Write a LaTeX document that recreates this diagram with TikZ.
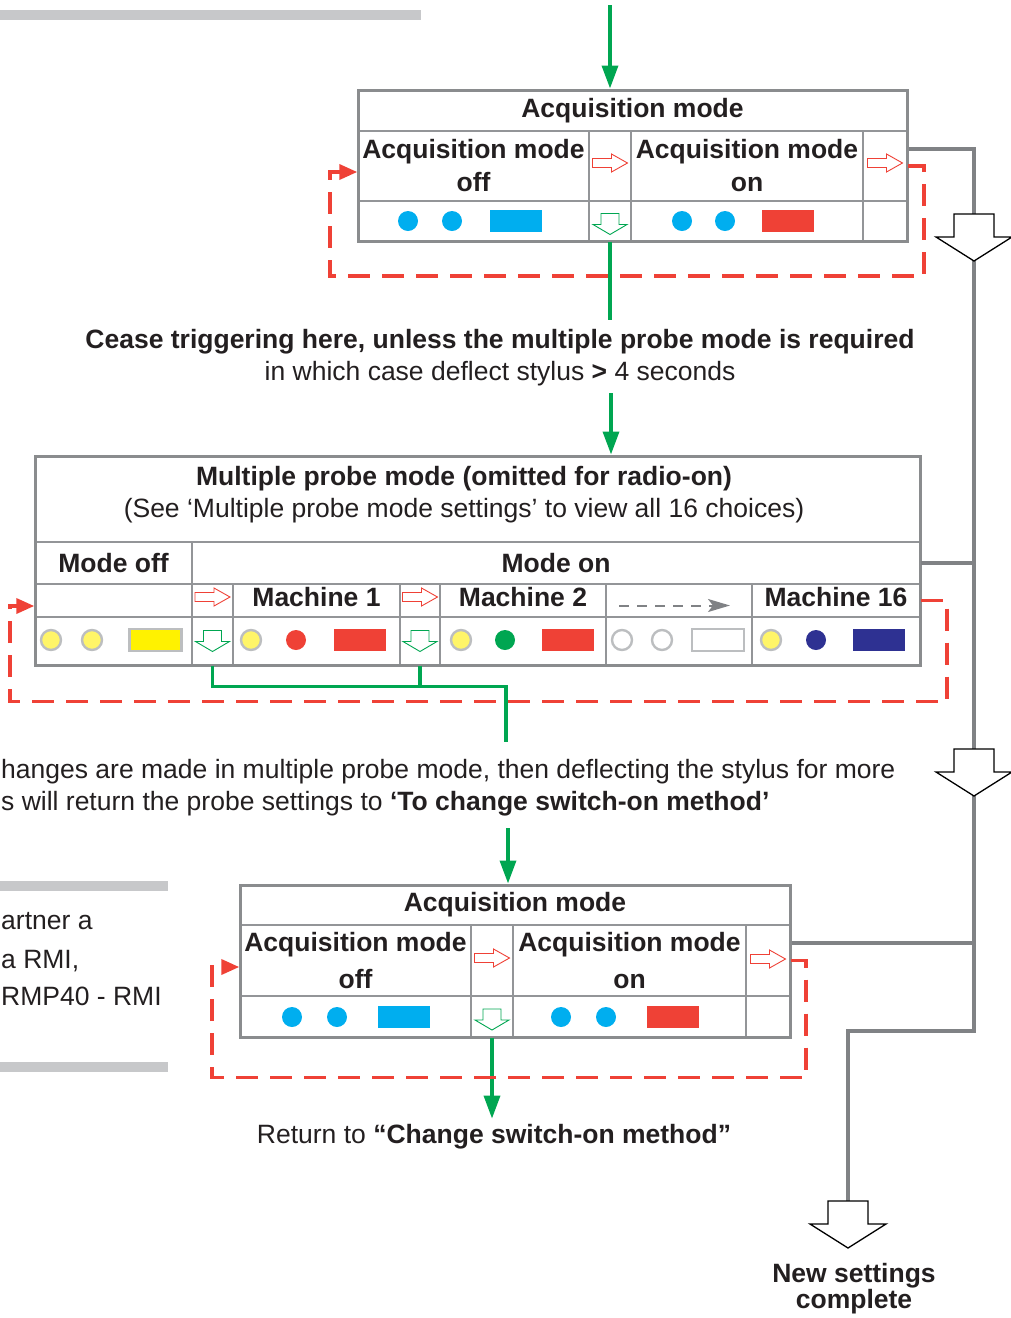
\documentclass[tikz,border=0pt]{standalone}
\usepackage{fontspec}
\setmainfont{Liberation Sans}
\usetikzlibrary{arrows.meta}

\definecolor{ink}{RGB}{35,31,32}
\definecolor{gridgray}{RGB}{147,149,152}
\definecolor{framegray}{RGB}{138,140,142}
\definecolor{trunkgray}{RGB}{128,130,133}
\definecolor{bargray}{RGB}{199,200,202}
\definecolor{ringgray}{RGB}{188,190,192}
\definecolor{flowgreen}{RGB}{0,166,81}
\definecolor{loopred}{RGB}{239,65,54}
\definecolor{lampcyan}{RGB}{0,174,239}
\definecolor{lampnavy}{RGB}{46,49,146}
\definecolor{lampyellow}{RGB}{255,245,104}
\definecolor{baryellow}{RGB}{255,242,0}

% one row of indicator lamps: y, x lamp1, x lamp2, x bar, styles
\newcommand{\lampset}[7]{%
  \filldraw[#5] (#2,#1) circle (10);
  \filldraw[#6] (#3,#1) circle (10);
  \filldraw[#7] (#4-26,#1-11) rectangle (#4+26,#1+11);}

\begin{document}
\begin{tikzpicture}[x=1pt,y=-1pt,>={Triangle[length=23pt,width=16pt]},
    font=\fontsize{26.5}{33}\selectfont,text=ink,inner sep=0pt]
  \tikzset{cell/.style={draw=gridgray,line width=1.4pt,inner sep=0pt,align=center,font=\fontsize{26.5}{33}\selectfont\bfseries},
    frame/.style={draw=framegray,line width=3pt,inner sep=0pt},
    flow/.style={draw=flowgreen,line width=3.5pt,->},
    flowline/.style={draw=flowgreen,line width=3.5pt},
    redloop/.style={draw=loopred,line width=3.6pt,dash pattern=on 22pt off 12pt,-{Triangle[length=18pt,width=15pt]}},
    trunk/.style={draw=trunkgray,line width=3.5pt},
    skiparrow/.style={draw=trunkgray,line width=2pt,dash pattern=on 10pt off 8pt,-{Stealth[length=22pt,width=13pt,inset=5pt]}},
    cyanlamp/.style={fill=lampcyan,draw=none},
    redlamp/.style={fill=loopred,draw=none},
    greenlamp/.style={fill=flowgreen,draw=none},
    navylamp/.style={fill=lampnavy,draw=none},
    offlamp/.style={fill=lampyellow,draw=ringgray,line width=2.4pt},
    offbar/.style={fill=baryellow,draw=ringgray,line width=2.4pt},
    hollowlamp/.style={fill=white,draw=ringgray,line width=2.4pt},
    redarr/.pic={\draw[loopred,line width=0.9pt,fill=white] (-17.5,-4.5) -- (1.5,-4.5) -- (1.5,-9) -- (17.5,0) -- (1.5,9) -- (1.5,4.5) -- (-17.5,4.5) -- cycle;},
    greendn/.pic={\draw[flowgreen,line width=0.9pt,fill=white] (-9,-10.5) -- (9,-10.5) -- (9,0.5) -- (17,0.5) -- (0,10.5) -- (-17,0.5) -- (-9,0.5) -- cycle;},
    bigdown/.pic={\filldraw[fill=white,draw=black,line width=1.3pt] (-20,0) -- (20,0) -- (20,23) -- (38,23) -- (0,47) -- (-38,23) -- (-20,23) -- cycle;}}
  \useasboundingbox (0,0) rectangle (1010,1318);

  % side bars of the page
  \fill[bargray] (0,10) rectangle (421,20);
  \fill[bargray] (0,881) rectangle (168,891);
  \fill[bargray] (0,1062) rectangle (168,1072);

  % acquisition mode (first pass)
  \node[cell,minimum width=549pt,minimum height=41pt] (acqAtitle) at (632.5,110.5) {Acquisition mode};
  \node[cell,minimum width=231pt,minimum height=70pt] (acqAoff) at (473.5,166) {Acquisition mode\\off};
  \node[cell,minimum width=42pt,minimum height=70pt] (acqAar1) at (610,166) {};
  \node[cell,minimum width=232pt,minimum height=70pt] (acqAon) at (747,166) {Acquisition mode\\on};
  \node[cell,minimum width=44pt,minimum height=70pt] (acqAar2) at (885,166) {};
  \node[cell,minimum width=231pt,minimum height=40pt] (acqAoffL) at (473.5,221) {};
  \node[cell,minimum width=42pt,minimum height=40pt] (acqAdn) at (610,221) {};
  \node[cell,minimum width=232pt,minimum height=40pt] (acqAonL) at (747,221) {};
  \node[cell,minimum width=44pt,minimum height=40pt] (acqAend) at (885,221) {};
  \node[frame,minimum width=549pt,minimum height=151pt] (acqA) at (632.5,165.5) {};
  \lampset{221}{408}{452}{516}{cyanlamp}{cyanlamp}{cyanlamp}
  \lampset{221}{682}{725}{788}{cyanlamp}{cyanlamp}{redlamp}
  \pic at ([yshift=3pt]acqAar1.center) {redarr};
  \pic at ([yshift=3pt]acqAar2.center) {redarr};
  \pic at ([yshift=-3pt]acqAdn.center) {greendn};

  \node[anchor=base,font=\fontsize{26.5}{33}\selectfont\bfseries] (cease) at (500,348) {Cease triggering here, unless the multiple probe mode is required};
  \node[anchor=base] (stylus) at (500,380) {in which case deflect stylus \textbf{>} 4 seconds};

  % multiple probe mode
  \node[cell,minimum width=885pt,minimum height=86pt] (mpTitle) at (477.5,499) {};
  \node[align=center,font=\fontsize{26.5}{32}\selectfont] (mpText) at (464,495) {\textbf{Multiple probe mode (omitted for radio-on)}\\(See ‘Multiple probe mode settings’ to view all 16 choices)};
  \node[cell,minimum width=157pt,minimum height=42pt] (mpOff) at (113.5,563) {Mode off};
  \node[cell,minimum width=728pt,minimum height=42pt] (mpOn) at (556,563) {Mode on};
  \node[cell,minimum width=157pt,minimum height=33pt] (mpOffM) at (113.5,600.5) {};
  \node[cell,minimum width=41pt,minimum height=33pt] (mpAr1) at (212.5,600.5) {};
  \node[cell,minimum width=167pt,minimum height=33pt,text depth=8pt] (mpM1) at (316.5,600.5) {Machine 1};
  \node[cell,minimum width=40pt,minimum height=33pt] (mpAr2) at (420,600.5) {};
  \node[cell,minimum width=166pt,minimum height=33pt,text depth=8pt] (mpM2) at (523,600.5) {Machine 2};
  \node[cell,minimum width=146pt,minimum height=33pt] (mpSkip) at (679,600.5) {};
  \node[cell,minimum width=168pt,minimum height=33pt,text depth=8pt] (mpM16) at (836,600.5) {Machine 16};
  \node[cell,minimum width=157pt,minimum height=48pt] (mpOffL) at (113.5,641) {};
  \node[cell,minimum width=41pt,minimum height=48pt] (mpDn1) at (212.5,641) {};
  \node[cell,minimum width=167pt,minimum height=48pt] (mpM1L) at (316.5,641) {};
  \node[cell,minimum width=40pt,minimum height=48pt] (mpDn2) at (420,641) {};
  \node[cell,minimum width=166pt,minimum height=48pt] (mpM2L) at (523,641) {};
  \node[cell,minimum width=146pt,minimum height=48pt] (mpSkipL) at (679,641) {};
  \node[cell,minimum width=168pt,minimum height=48pt] (mpM16L) at (836,641) {};
  \node[frame,minimum width=885pt,minimum height=209pt] (mp) at (477.5,560.5) {};
  \lampset{640}{51}{92}{155.5}{offlamp}{offlamp}{offbar}
  \lampset{640}{251}{296}{360}{offlamp}{redlamp}{redlamp}
  \lampset{640}{461}{505}{568}{offlamp}{greenlamp}{redlamp}
  \lampset{640}{622}{662}{718}{hollowlamp}{hollowlamp}{hollowlamp}
  \lampset{640}{771}{816}{879}{offlamp}{navylamp}{navylamp}
  \pic at ([yshift=3.5pt]mpAr1.center) {redarr};
  \pic at ([yshift=3.5pt]mpAr2.center) {redarr};
  \pic at (mpDn1) {greendn};
  \pic at (mpDn2) {greendn};
  \draw[skiparrow] ([xshift=-60pt,yshift=-5pt]mpSkip.center) -- ++(111,0);

  \node[anchor=base west] (changes1) at (1,778) {hanges are made in multiple probe mode, then deflecting the stylus for more};
  \node[anchor=base west] (changes2) at (1,810) {s will return the probe settings to \textbf{‘To change switch-on method’}};

  \node[anchor=base west] (partner1) at (1,929) {artner a};
  \node[anchor=base west] (partner2) at (1,968) {a RMI,};
  \node[anchor=base west] (partner3) at (1,1005) {RMP40 - RMI};

  % acquisition mode (second pass)
  \node[cell,minimum width=550pt,minimum height=40pt] (acqBtitle) at (515,905) {Acquisition mode};
  \node[cell,minimum width=231pt,minimum height=71pt,font=\fontsize{26.5}{37}\selectfont\bfseries] (acqBoff) at (355.5,960.5) {Acquisition mode\\off};
  \node[cell,minimum width=42pt,minimum height=71pt] (acqBar1) at (492,960.5) {};
  \node[cell,minimum width=233pt,minimum height=71pt,font=\fontsize{26.5}{37}\selectfont\bfseries] (acqBon) at (629.5,960.5) {Acquisition mode\\on};
  \node[cell,minimum width=44pt,minimum height=71pt] (acqBar2) at (768,960.5) {};
  \node[cell,minimum width=231pt,minimum height=41pt] (acqBoffL) at (355.5,1016.5) {};
  \node[cell,minimum width=42pt,minimum height=41pt] (acqBdn) at (492,1016.5) {};
  \node[cell,minimum width=233pt,minimum height=41pt] (acqBonL) at (629.5,1016.5) {};
  \node[cell,minimum width=44pt,minimum height=41pt] (acqBend) at (768,1016.5) {};
  \node[frame,minimum width=550pt,minimum height=152pt] (acqB) at (515,961) {};
  \lampset{1017}{292}{337}{404}{cyanlamp}{cyanlamp}{cyanlamp}
  \lampset{1017}{561}{606}{673}{cyanlamp}{cyanlamp}{redlamp}
  \pic at ([yshift=2.5pt]acqBar1.center) {redarr};
  \pic at ([yshift=1.5pt]acqBar2.center) {redarr};
  \pic at ([yshift=-3pt]acqBdn.center) {greendn};

  \node[anchor=base] (ret) at (494,1143) {Return to \textbf{“Change switch-on method”}};
  \node[align=center,font=\fontsize{26.5}{26}\selectfont\bfseries] (done) at (854,1289) {New settings\\complete};

  % green flow
  \coordinate (feedA) at (610,5);
  \coordinate (ceaseTop) at (610,320);
  \coordinate (stylusEnd) at (611,393);
  \coordinate (changesTop) at (506,742);
  \coordinate (changesEnd) at (508,828);
  \draw[flow] (feedA) -- (feedA |- acqA.north);
  \draw[flowline] (acqAdn.south) -- (ceaseTop);
  \draw[flow] (stylusEnd) -- (stylusEnd |- mp.north);
  \draw[flowline] (mpDn1.south) -- ++(0,21) -| (changesTop);
  \draw[flowline] (mpDn2.south) -- ++(0,21);
  \draw[flow] (changesEnd) -- (changesEnd |- acqB.north);
  \draw[flow,shorten >=5pt] (acqBdn.south) -- (acqBdn.south |- ret.north);

  % red return loops
  \draw[redloop] (acqAar2.east) -- ++(16,0) -- ++(0,110) -| (330,172) -- ([yshift=-6pt]acqAoff.west);
  \draw[redloop] (mpM16.east) -- ++(26,0) -- ++(0,101) -| (10,606) -- ([yshift=-5.5pt]mpOffM.west);
  \draw[redloop] (acqBar2.east) -- ++(15,0) -- ++(0,117) -| (212,967) -- ([yshift=-6.5pt]acqBoff.west);

  % gray exit line
  \coordinate (tapA) at (974,149);
  \coordinate (tapB) at (974,943);
  \coordinate (trunkEnd) at (974,1031);
  \coordinate (doneTop) at (848,1201);
  \draw[trunk] (acqA.east |- tapA) -- (tapA) -- (trunkEnd) -| (doneTop);
  \draw[trunk] (mpOn.east) -- (mpOn.east -| tapA);
  \draw[trunk] (acqB.east |- tapB) -- (tapB);
  \pic at (974,214) {bigdown};
  \pic at (974,749) {bigdown};
  \pic at (doneTop) {bigdown};
\end{tikzpicture}
\end{document}
